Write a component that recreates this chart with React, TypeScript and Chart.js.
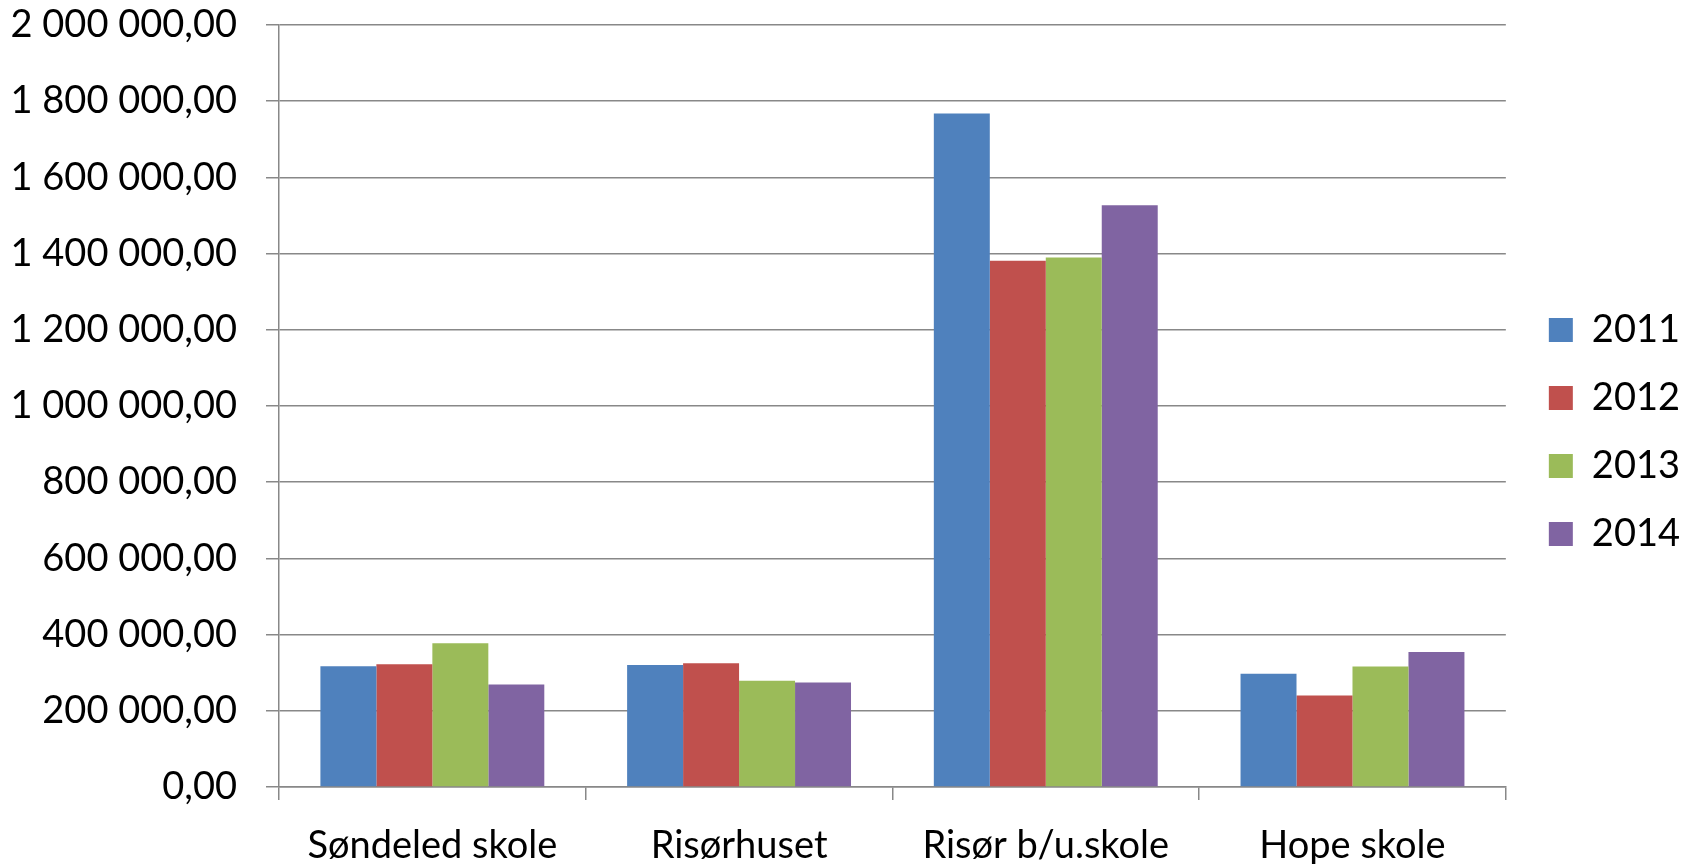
import React, { useEffect, useRef } from "react";
import { Chart, registerables } from "chart.js";

Chart.register(...registerables);

const categories = ["Søndeled skole", "Risørhuset", "Risør b/u.skole", "Hope skole"];
const seriesNames = ["2011", "2012", "2013", "2014"];
const values2011 = [317000, 320500, 1768000, 297000];
const values2012 = [322000, 325000, 1381500, 240000];
const values2013 = [377000, 279000, 1389500, 316000];
const values2014 = [269000, 274000, 1527000, 354500];
const colors = ["#4F81BD", "#C0504D", "#9BBB59", "#8064A2"];

const FONT = "Lato";

function formatNo(v: number): string {
  const s = Math.round(v).toString();
  const grouped = s.replace(/\B(?=(\d{3})+(?!\d))/g, " ");
  return grouped + ",00";
}

export default function App() {
  const ref = useRef<HTMLCanvasElement | null>(null);
  useEffect(() => {
    document.body.style.margin = "0";
    const all = [values2011, values2012, values2013, values2014];
    const chart = new Chart(ref.current as HTMLCanvasElement, {
      type: "bar",
      data: {
        labels: categories,
        datasets: seriesNames.map((name, i) => ({
          label: name,
          data: all[i],
          backgroundColor: colors[i],
          borderWidth: 0,
          categoryPercentage: 0.73,
          barPercentage: 1.0,
        })),
      },
      options: {
        animation: false,
        responsive: false,
        devicePixelRatio: 1,
        layout: { padding: { top: 0, left: 0, right: 0, bottom: 0 } },
        plugins: {
          tooltip: { enabled: false },
          legend: {
            position: "right",
            labels: {
              boxWidth: 24,
              boxHeight: 24,
              padding: 30,
              color: "#000",
              font: { family: FONT, size: 38 },
            },
          },
        },
        scales: {
          x: {
            grid: {
              offset: true,
              drawOnChartArea: false,
              drawTicks: true,
              tickLength: 13,
              color: "#888",
              lineWidth: 1.5,
            },
            border: { display: true, color: "#888", width: 1.5 },
            ticks: {
              color: "#000",
              padding: 23,
              maxRotation: 0,
              font: { family: FONT, size: 38 },
            },
            afterFit: (s: any) => {
              s.height = 77;
            },
          },
          y: {
            min: 0,
            max: 2000000,
            grid: { color: "#888", lineWidth: 1.5, tickLength: 13 },
            border: { display: true, color: "#888", width: 1.5 },
            ticks: {
              stepSize: 200000,
              color: "#000",
              padding: 29,
              font: { family: FONT, size: 38 },
              callback: (v: any) => formatNo(Number(v)),
            },
            afterFit: (s: any) => {
              s.width = 279;
              s.paddingTop = 25;
              s.paddingBottom = 0;
            },
          },
          y2: {
            type: "linear",
            position: "right",
            display: true,
            grid: { display: false },
            ticks: { display: false },
            border: { display: false },
            afterFit: (s: any) => {
              s.width = 13;
              s.paddingTop = 0;
              s.paddingBottom = 0;
            },
          },
        },
      },
    });
    return () => chart.destroy();
  }, []);
  return (
    <div style={{ width: 1690, height: 864 }}>
      <canvas ref={ref} width={1690} height={864} />
    </div>
  );
}
